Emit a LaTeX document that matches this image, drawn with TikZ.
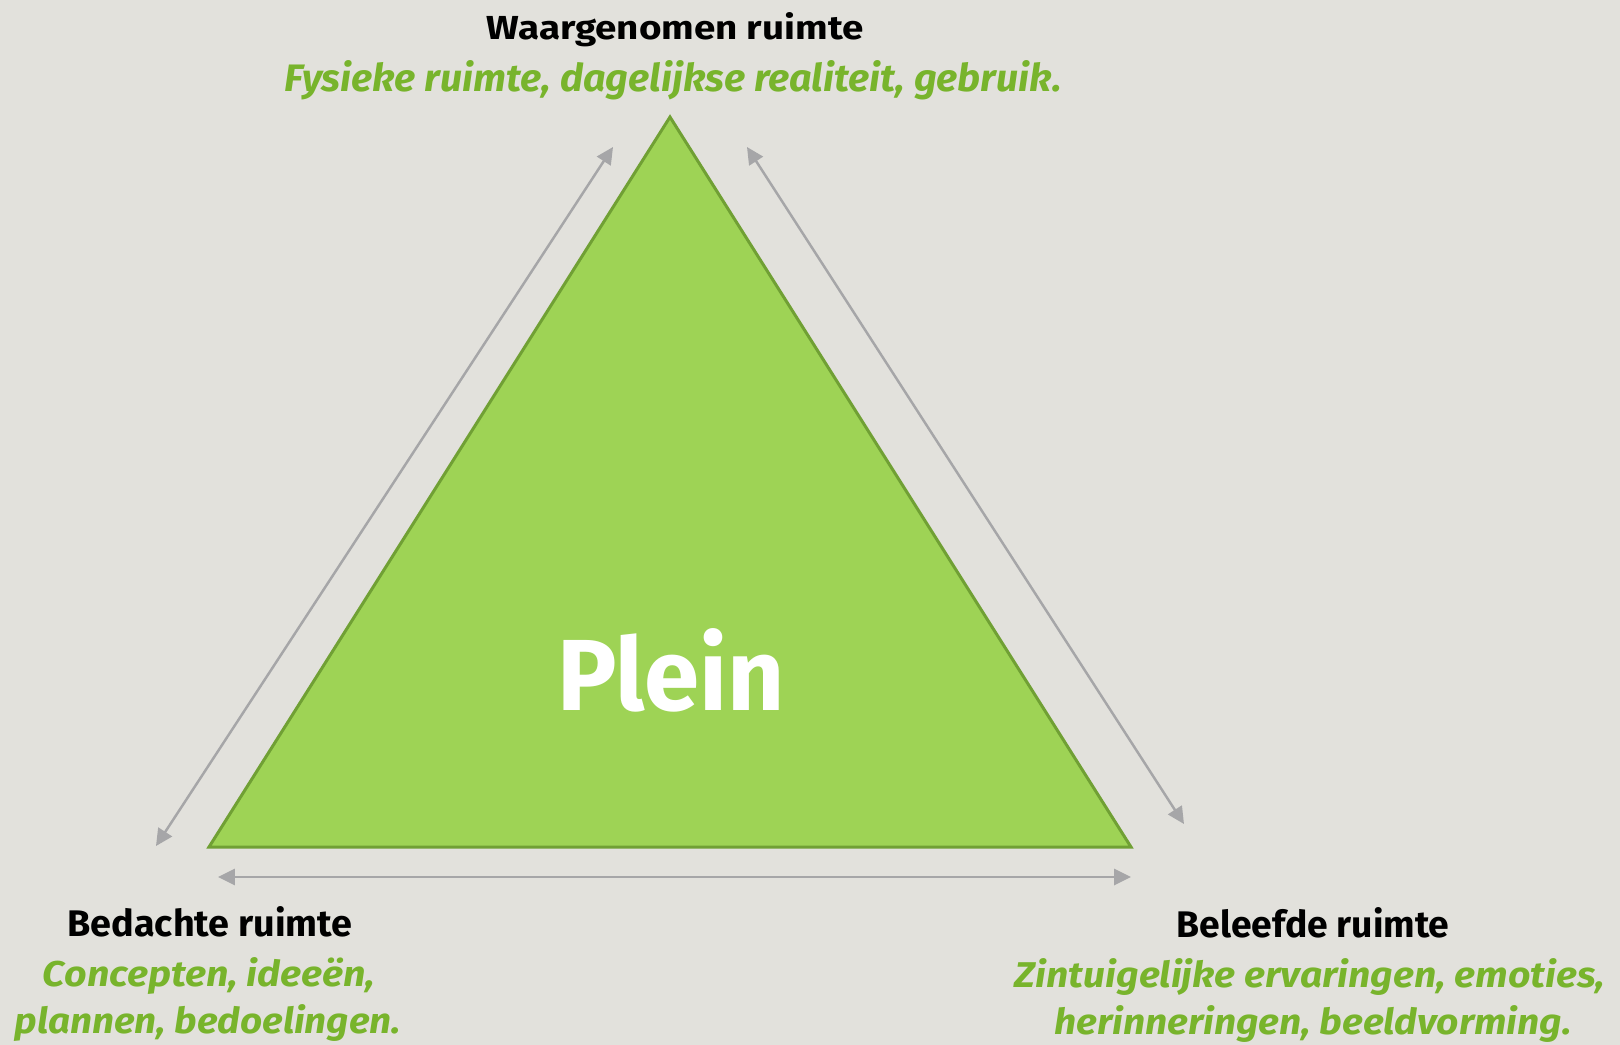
\documentclass[tikz,border=0pt]{standalone}
\usepackage{fontspec}
\setmainfont{Fira Sans}
\usepackage{graphicx}
\usetikzlibrary{arrows.meta}
\definecolor{bg}{RGB}{226,225,220}
\definecolor{trifill}{RGB}{158,211,85}
\definecolor{triedge}{RGB}{112,160,52}
\definecolor{txtgreen}{RGB}{120,180,44}
\definecolor{arrowgray}{RGB}{166,166,168}
\newlength\pxu
\setlength\pxu{0.01cm}
\newcommand{\fitbox}[3]{\resizebox{#1\pxu}{#2\pxu}{#3}}
\tikzset{
  lbl/.style={inner sep=0pt, outer sep=0pt, anchor=base, text=black},
  sub/.style={inner sep=0pt, outer sep=0pt, anchor=base, text=txtgreen},
  dbl/.style={draw=arrowgray, line width=0.7pt,
    {Triangle[length=4.8pt,width=4.6pt]}-{Triangle[length=4.8pt,width=4.6pt]}},
  tri/.style={fill=trifill, draw=triedge, line width=0.85pt, line join=miter}
}
\begin{document}
\begin{tikzpicture}[x=0.01cm,y=-0.01cm]
\useasboundingbox (0,0) rectangle (1620,1045);
\fill[bg] (0,0) rectangle (1620,1045);
% triangle
\coordinate (A) at (670,117);
\coordinate (B) at (209,847);
\coordinate (C) at (1131,847);
\draw[tri] (A) -- (B) -- (C) -- cycle;
% arrows
\coordinate (l1) at (613,147);
\coordinate (l2) at (156,846);
\coordinate (r1) at (747,147);
\coordinate (r2) at (1184,824);
\coordinate (b1) at (218,877);
\coordinate (b2) at (1131,877);
\draw[dbl] (l1) -- (l2);
\draw[dbl] (r1) -- (r2);
\draw[dbl] (b1) -- (b2);
% center text
\node[lbl, text=white] (plein) at (671,710) {\fitbox{228}{82}{\bfseries Plein}};
% top
\node[lbl] (top) at (675,39) {\fitbox{377}{27}{\bfseries Waargenomen ruimte}};
\node[sub] (topsub) at (673,91) {\fitbox{777}{31}{\bfseries\itshape Fysieke ruimte, dagelijkse realiteit, gebruik.}};
% left
\node[lbl] (left) at (210,936) {\fitbox{285}{30}{\bfseries Bedachte ruimte}};
\node[sub] (leftsub1) at (209,986) {\fitbox{332}{29}{\bfseries\itshape Concepten, ideeën,}};
\node[sub] (leftsub2) at (208,1033) {\fitbox{386}{29}{\bfseries\itshape plannen, bedoelingen.}};
% right
\node[lbl] (right) at (1313,937) {\fitbox{273}{30}{\bfseries Beleefde ruimte}};
\node[sub] (rightsub1) at (1310,987) {\fitbox{590}{29}{\bfseries\itshape Zintuigelijke ervaringen, emoties,}};
\node[sub] (rightsub2) at (1313,1034) {\fitbox{517}{29}{\bfseries\itshape herinneringen, beeldvorming.}};
\end{tikzpicture}
\end{document}
